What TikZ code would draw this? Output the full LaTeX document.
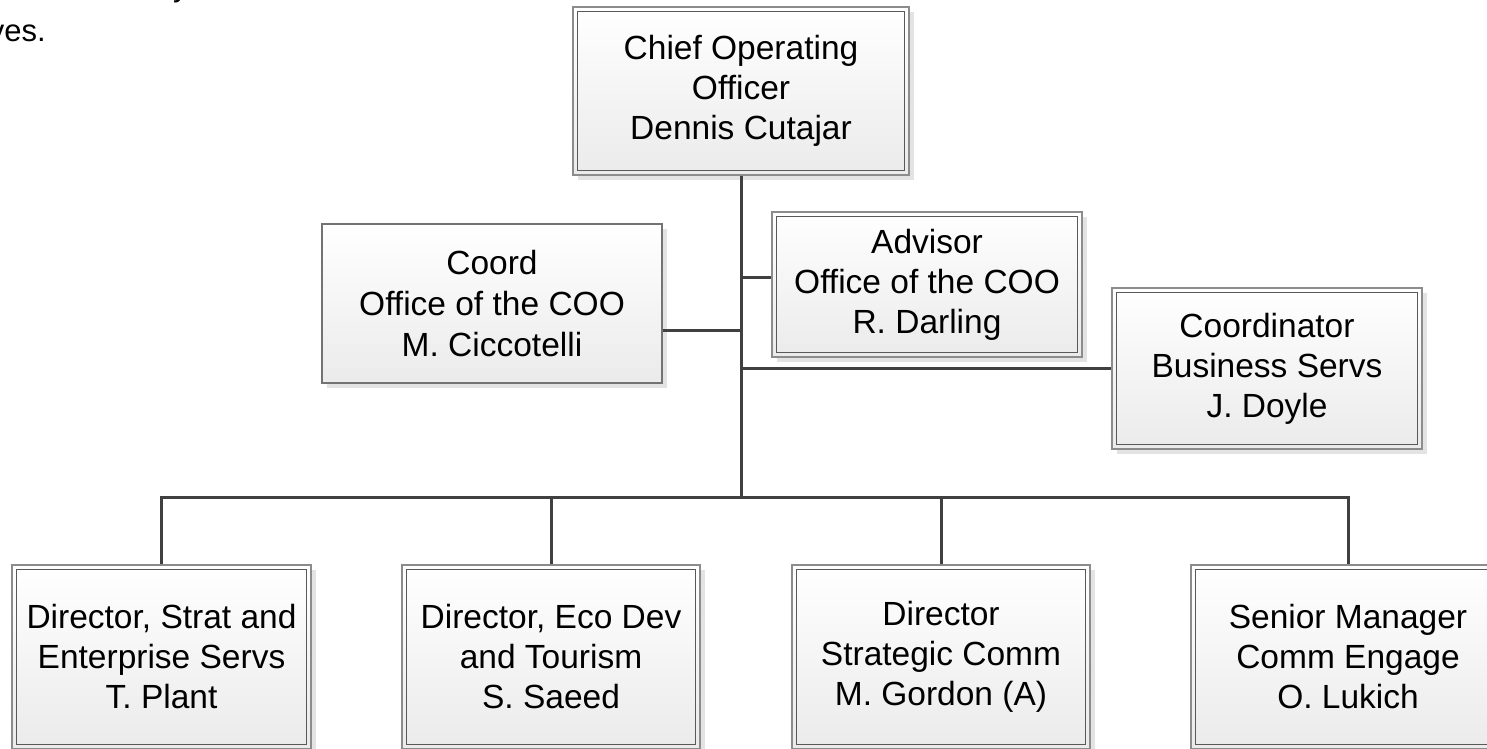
\documentclass[tikz,border=0pt]{standalone}
\usepackage{fontspec}
\setmainfont{Liberation Sans}
\usetikzlibrary{shadows}
\begin{document}
\begin{tikzpicture}[x=1pt,y=-1pt,
  orgbox/.style={rectangle, inner sep=0pt, align=center,
    font=\fontsize{33.5}{40}\selectfont,
    draw=black!45, line width=1.2pt,
    top color=white, bottom color=black!8,
    drop shadow={shadow xshift=5pt, shadow yshift=-5pt, fill=black!11, opacity=1}},
  singlebox/.style={orgbox, draw=black!55, line width=1.4pt},
  innerline/.style={draw=black!65, line width=1.5pt},
  conn/.style={draw=black!75, line width=3pt},
  pagetext/.style={font=\fontsize{31}{36}\selectfont, inner sep=0pt}]
\useasboundingbox (0,0) rectangle (1487,748);
\clip (0,0) rectangle (1487,748);

% fragments of surrounding page text
\node[pagetext, anchor=base east] (pv) at (46,41) {ves.};
\node[pagetext, anchor=base west] (py) at (173,-4) {y};

% boxes
\node[orgbox, minimum width=336pt, minimum height=168pt] (coo) at (741,91)
  {Chief Operating\\Officer\\Dennis Cutajar};
\node[singlebox, minimum width=340pt, minimum height=159pt, font=\fontsize{33.5}{41}\selectfont] (coord) at (492,303.5)
  {Coord\\Office of the COO\\M. Ciccotelli};
\node[orgbox, minimum width=310pt, minimum height=145pt] (adv) at (927,284.5)
  {Advisor\\Office of the COO\\R. Darling};
\node[orgbox, minimum width=310pt, minimum height=161pt] (bsv) at (1267,368.5)
  {Coordinator\\Business Servs\\J. Doyle};
\node[orgbox, minimum width=299pt, minimum height=184pt] (d1) at (161.5,657)
  {Director, Strat and\\Enterprise Servs\\T. Plant};
\node[orgbox, minimum width=298pt, minimum height=184pt] (d2) at (551,657)
  {Director, Eco Dev\\and Tourism\\S. Saeed};
\node[orgbox, minimum width=298pt, minimum height=184pt] (d3) at (941,657)
  {Director\\Strategic Comm\\M. Gordon (A)};
\node[orgbox, minimum width=314pt, minimum height=184pt] (d4) at (1348,657)
  {Senior Manager\\Comm Engage\\O. Lukich};

% inner borders of double-framed boxes
\foreach \b in {coo,adv,bsv,d1,d2,d3,d4}
  \draw[innerline] ([shift={(5,5)}]\b.north west) rectangle ([shift={(-5,-5)}]\b.south east);

% connectors
\coordinate (j) at (741,497);
\coordinate (jc) at (741,330);
\coordinate (ja) at (741,277);
\draw[conn] (coo.south) -- (j);
\draw[conn] (jc) -- (jc -| coord.east);
\draw[conn] (ja) -- (ja -| adv.west);
\draw[conn] (bsv.west -| j) -- (bsv.west);
\draw[conn] (d1.north) |- (j) -| (d4.north);
\draw[conn] (d2.north) -- (d2.north |- j);
\draw[conn] (d3.north) -- (d3.north |- j);
\end{tikzpicture}
\end{document}
